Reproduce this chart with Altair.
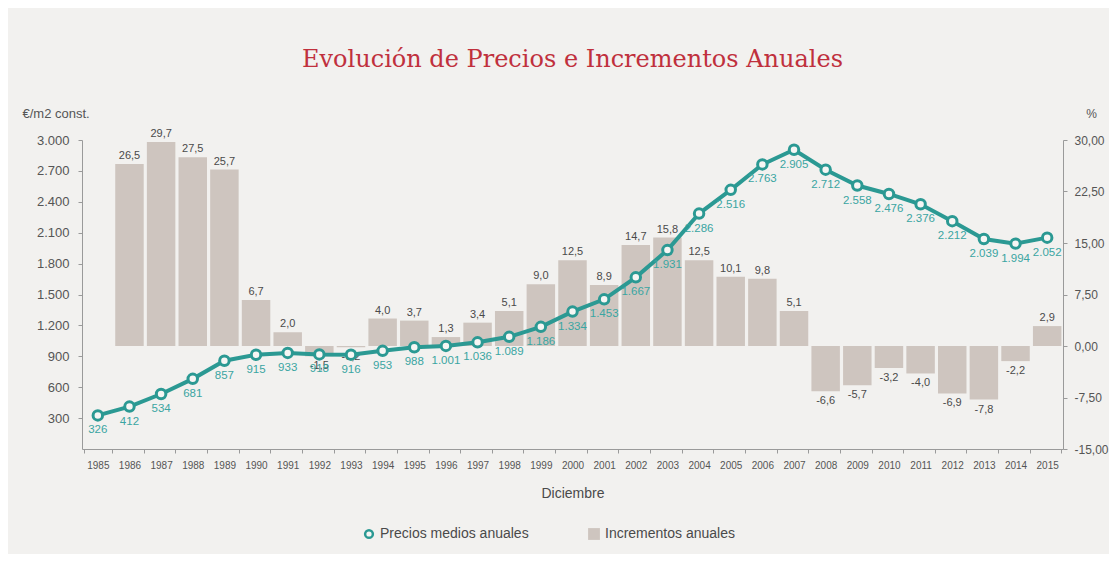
import altair as alt
import pandas as pd

years = [str(y) for y in range(1985, 2016)]
precios = [326, 412, 534, 681, 857, 915, 933, 918, 916, 953, 988, 1001, 1036, 1089, 1186,
           1334, 1453, 1667, 1931, 2286, 2516, 2763, 2905, 2712, 2558, 2476, 2376, 2212,
           2039, 1994, 2052]
incrementos = [None, 26.5, 29.7, 27.5, 25.7, 6.7, 2.0, -1.5, -0.2, 4.0, 3.7, 1.3, 3.4, 5.1,
               9.0, 12.5, 8.9, 14.7, 15.8, 12.5, 10.1, 9.8, 5.1, -6.6, -5.7, -3.2, -4.0,
               -6.9, -7.8, -2.2, 2.9]
left_ticks = [300, 600, 900, 1200, 1500, 1800, 2100, 2400, 2700, 3000]
right_ticks = [-15, -7.5, 0, 7.5, 15, 22.5, 30]

TEAL = "#2b9993"
TEAL_TXT = "#3aa5a2"
BAR = "#cec5bf"
TXT = "#4a4a4a"
NARROW = "Liberation Sans Narrow, Liberation Sans, sans-serif"
SANS = "Liberation Sans, sans-serif"

df = pd.DataFrame({
    "year": years,
    "precio": precios,
    "incremento": incrementos,
    "serie_l": ["Precios medios anuales"] * len(years),
    "serie_b": ["Incrementos anuales"] * len(years),
})

x = alt.X(
    "year:O", sort=years,
    scale=alt.Scale(paddingInner=0.1, paddingOuter=0.05),
    axis=alt.Axis(
        title="Diciembre", labelAngle=0, tickBand="extent", labelFont=NARROW,
        labelFontSize=10, labelColor="#555", domainColor="#9a9a9a", tickColor="#9a9a9a",
        tickSize=4, labelPadding=7, titleFont=NARROW, titleFontSize=14,
        titleFontWeight="normal", titleColor=TXT, titlePadding=16,
    ),
)

base = alt.Chart(df)

yb = alt.Y(
    "incremento:Q",
    scale=alt.Scale(domain=[-15, 30], nice=False, zero=True),
    axis=alt.Axis(
        orient="right", values=right_ticks, tickCount=20, grid=False, labelOverlap=False,
        labelExpr="(datum.value < 0 ? '-' : '') + replace(format(abs(datum.value), '.2f'), '.', ',')",
        labelFont=SANS, labelFontSize=12, labelColor="#555", domainColor="#9a9a9a",
        tickColor="#9a9a9a", tickSize=4, labelPadding=7,
        title="%", titleAngle=0, titleX=28, titleY=-27, titleAlign="center",
        titleBaseline="middle", titleFont=SANS, titleFontSize=12, titleFontWeight="normal",
        titleColor="#555",
    ),
)

bars = base.transform_filter("datum.incremento != null").mark_bar().encode(
    x=x,
    y=yb,
    fill=alt.Fill(
        "serie_b:N",
        scale=alt.Scale(domain=["Incrementos anuales"], range=[BAR]),
        legend=alt.Legend(
            orient="none", legendX=505, legendY=387, title=None, symbolType="square",
            symbolSize=140, labelFont=SANS, labelFontSize=14, labelColor=TXT,
            symbolStrokeWidth=0,
        ),
    ),
)

lab_expr = "(datum.incremento < 0 ? '-' : '') + replace(format(abs(datum.incremento), '.1f'), '.', ',')"
bar_pos = base.transform_filter("datum.incremento != null && datum.incremento >= 0").transform_calculate(
    lab=lab_expr).mark_text(baseline="bottom", dy=-3, font=NARROW, fontSize=11, color=TXT).encode(
    x=x, y="incremento:Q", text="lab:N")
bar_neg = base.transform_filter("datum.incremento != null && datum.incremento < 0").transform_calculate(
    lab=lab_expr).mark_text(baseline="top", dy=4, font=NARROW, fontSize=11, color=TXT).encode(
    x=x, y="incremento:Q", text="lab:N")

yl = alt.Y(
    "precio:Q",
    scale=alt.Scale(domain=[0, 3000], nice=False),
    axis=alt.Axis(
        orient="left", values=left_ticks, tickCount=20, grid=False, labelOverlap=False,
        labelExpr="replace(format(datum.value, ','), ',', '.')",
        labelFont=SANS, labelFontSize=13, labelColor="#555", domainColor="#9a9a9a",
        tickColor="#9a9a9a", tickSize=4, labelPadding=9,
        title="€/m2 const.", titleAngle=0, titleX=-60, titleY=-27, titleAlign="left",
        titleBaseline="middle", titleFont=SANS, titleFontSize=13, titleFontWeight="normal",
        titleColor="#555",
    ),
)

line = base.mark_line(color=TEAL, strokeWidth=4).encode(x=x, y=yl)
points = base.mark_point(filled=True, fill="#f6f6f4", strokeWidth=3, size=90, opacity=1).encode(
    x=x,
    y="precio:Q",
    stroke=alt.Stroke(
        "serie_l:N",
        scale=alt.Scale(domain=["Precios medios anuales"], range=[TEAL]),
        legend=alt.Legend(
            orient="none", legendX=280, legendY=387, title=None, symbolType="circle",
            symbolSize=60, symbolStrokeWidth=2.5, symbolFillColor="white",
            labelFont=SANS, labelFontSize=14, labelColor=TXT,
        ),
    ),
)
line_lab = base.transform_calculate(
    lab="replace(format(datum.precio, ','), ',', '.')"
).mark_text(baseline="top", dy=9, font=NARROW, fontSize=11.5, color=TEAL_TXT).encode(
    x=x, y="precio:Q", text="lab:N")

bar_layer = alt.layer(bars, bar_pos, bar_neg)
line_layer = alt.layer(line, points, line_lab)

chart = alt.layer(bar_layer, line_layer).resolve_scale(
    y="independent", fill="independent", stroke="independent"
).properties(
    width=981, height=309,
    padding={"left": 74, "top": 132, "right": 46, "bottom": 105},
    autosize=alt.AutoSizeParams(type="none"),
    background="#f2f1ef",
    title=alt.Title(
        "Evolución de Precios e Incrementos Anuales", font="DejaVu Serif", fontSize=24,
        fontWeight="normal", color="#c0303d", anchor="middle", baseline="bottom", offset=11,
    ),
).configure_view(stroke=None)

chart.save("out.html", embed_options={"renderer": "svg", "actions": False})
